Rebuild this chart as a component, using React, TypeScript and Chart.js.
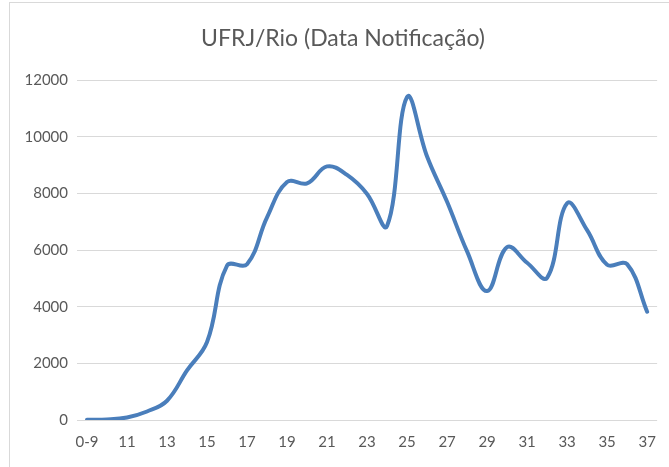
import React, { useEffect, useRef } from "react";
import { Chart, registerables } from "chart.js";

Chart.register(...registerables);

const categories = [
  "0-9", "10", "11", "12", "13", "14", "15", "16", "17", "18", "19", "20", "21", "22", "23",
  "24", "25", "26", "27", "28", "29", "30", "31", "32", "33", "34", "35", "36", "37",
];
const cases = [
  10, 20, 90, 300, 680, 1750, 2750, 5450, 5500, 7150, 8400, 8350, 8950, 8650, 7980,
  6850, 11400, 9300, 7700, 5950, 4550, 6100, 5550, 5020, 7650, 6700, 5480, 5500, 3820,
];
const titleText = "UFRJ/Rio (Data Notificação)";
const yMin = 0;
const yMax = 12000;
const yStep = 2000;

const FONT = "Lato, 'Open Sans', sans-serif";

const titlePlugin = {
  id: "customTitle",
  afterDraw(chart: any) {
    const ctx = chart.ctx;
    ctx.save();
    ctx.font = `23px ${FONT}`;
    ctx.fillStyle = "#595959";
    ctx.textAlign = "center";
    ctx.textBaseline = "middle";
    ctx.fillText(titleText, 343, 39);
    ctx.restore();
  },
};

export default function App() {
  const ref = useRef<HTMLCanvasElement | null>(null);

  useEffect(() => {
    if (!ref.current) return;
    const chart = new Chart(ref.current, {
      type: "line",
      data: {
        labels: categories,
        datasets: [
          {
            data: cases,
            borderColor: "#4a7ebb",
            borderWidth: 4,
            pointRadius: 0,
            tension: 0.4,
            fill: false,
            borderCapStyle: "round",
            borderJoinStyle: "round",
          },
        ],
      },
      options: {
        animation: false,
        responsive: false,
        devicePixelRatio: 1,
        layout: { padding: { left: 0, right: 10, top: 80, bottom: 0 } },
        plugins: {
          legend: { display: false },
          tooltip: { enabled: false },
          title: { display: false },
        },
        scales: {
          x: {
            offset: true,
            grid: { display: false, drawTicks: false },
            border: { display: false },
            ticks: {
              autoSkip: false,
              maxRotation: 0,
              minRotation: 0,
              padding: 13,
              color: "#595959",
              font: { family: FONT, size: 15 },
              callback: (_v: any, i: number) => (i % 2 === 0 ? categories[i] : ""),
            },
            afterFit: (s: any) => {
              s.height = 47;
            },
          },
          y: {
            min: yMin,
            max: yMax,
            grid: { color: "#d9d9d9", lineWidth: 1, drawTicks: false },
            border: { display: false },
            ticks: {
              stepSize: yStep,
              padding: 9,
              color: "#595959",
              font: { family: FONT, size: 15 },
              callback: (v: any) => String(v),
            },
            afterFit: (s: any) => {
              s.width = 77;
            },
          },
        },
      },
      plugins: [titlePlugin],
    });
    return () => chart.destroy();
  }, []);

  return (
    <div
      style={{
        position: "fixed",
        left: 0,
        top: 0,
        width: 669,
        height: 467,
        background: "#ffffff",
        overflow: "hidden",
      }}
    >
      <div
        style={{
          position: "absolute",
          left: 9,
          top: 2,
          width: 700,
          height: 500,
          borderTop: "1px solid #d9d9d9",
          borderLeft: "1px solid #d9d9d9",
        }}
      />
      <canvas
        ref={ref}
        width={669}
        height={467}
        style={{ position: "absolute", left: 0, top: 0, width: 669, height: 467 }}
      />
    </div>
  );
}
